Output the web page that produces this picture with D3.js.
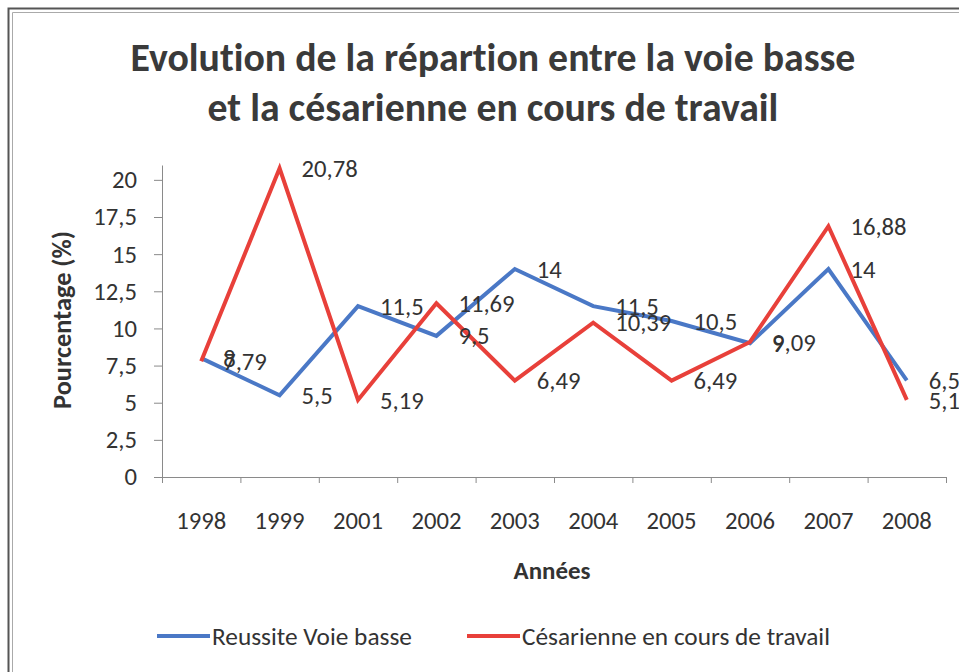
<!DOCTYPE html>
<html>
<head>
<meta charset="utf-8">
<script src="https://cdn.jsdelivr.net/npm/d3@7"></script>
<style>
  html, body { margin: 0; padding: 0; background: #fff; }
  svg { display: block; }
  text { font-variant-ligatures: none; }
</style>
</head>
<body>
<svg id="chart" width="959" height="672"></svg>
<script>
// ---- Data ----
const years = ['1998', '1999', '2001', '2002', '2003', '2004', '2005', '2006', '2007', '2008'];
const voieBasse = [8, 5.5, 11.5, 9.5, 14, 11.5, 10.5, 9, 14, 6.5];
const cesarienne = [7.79, 20.78, 5.19, 11.69, 6.49, 10.39, 6.49, 9.09, 16.88, 5.19];
const yTicks = [0, 2.5, 5, 7.5, 10, 12.5, 15, 17.5, 20];
const seriesNames = ['Reussite Voie basse', 'Césarienne en cours de travail'];
const titleLines = ['Evolution de la répartion entre la voie basse', 'et la césarienne en cours de travail'];
const xTitle = 'Années';
const yTitle = 'Pourcentage (%)';

// ---- Layout / style ----
const FF = 'Carlito, Calibri, Lato, "Open Sans", sans-serif';
const colors = ['#4a78c6', '#e8403a'];
const textColor = '#333';
const axisColor = '#8a8a8a';

const svg = d3.select('#chart');

function sizeFor(str, weight, target) {
  const t = svg.append('text').attr('font-family', FF).attr('font-weight', weight)
    .attr('font-size', 100).text(str);
  const w = t.node().getComputedTextLength();
  t.remove();
  return 100 * target / w;
}
const numSize = sizeFor('1998', 400, 50);
const legendSize = sizeFor(seriesNames[0], 400, 200);
const titleSize = sizeFor(titleLines[0], 700, 725);
const yTitleSize = sizeFor(yTitle, 700, 178);
const xTitleSize = sizeFor(xTitle, 700, 77);

const fmt = d => String(d).replace('.', ',');

// frame
const frame = svg.append('g');
frame.append('path').attr('d', 'M8.5,672 V8.5 H959').attr('fill', 'none')
  .attr('stroke', '#555').attr('stroke-width', 2);
frame.append('path').attr('d', 'M12.5,672 V12.5 H959').attr('fill', 'none')
  .attr('stroke', '#aaa').attr('stroke-width', 1);

// scales
const x = d3.scaleBand().domain(years).range([162, 946]);
const xEdge = d3.scaleLinear().domain([0, years.length]).range([162, 946]);
const y = d3.scaleLinear().domain([0, 21]).range([477, 165]);
const cx = d => x(d) + x.bandwidth() / 2;

// title
svg.append('g').selectAll('text').data(titleLines).join('text')
  .attr('x', 493).attr('y', (d, i) => 71 + i * 50)
  .attr('text-anchor', 'middle')
  .attr('font-family', FF).attr('font-weight', 700).attr('font-size', titleSize)
  .attr('fill', '#3a3a3a').text(d => d);

// y axis
const yAxis = svg.append('g').attr('transform', 'translate(162,0)')
  .call(d3.axisLeft(y).tickValues(yTicks).tickFormat(fmt).tickSize(8).tickSizeOuter(0).tickPadding(17));
yAxis.select('.domain').attr('stroke', axisColor);
yAxis.selectAll('.tick line').attr('stroke', axisColor);
yAxis.selectAll('.tick text').attr('font-family', FF).attr('font-size', numSize).attr('fill', textColor);

// x axis line + edge ticks
const xAxisEdge = svg.append('g').attr('transform', 'translate(0,477)')
  .call(d3.axisBottom(xEdge).ticks(years.length).tickFormat('').tickSize(6).tickSizeOuter(0));
xAxisEdge.select('.domain').attr('stroke', axisColor);
xAxisEdge.selectAll('.tick line').attr('stroke', axisColor);

// x labels
const xAxis = svg.append('g').attr('transform', 'translate(0,477)')
  .call(d3.axisBottom(x).tickSize(0).tickPadding(0));
xAxis.select('.domain').remove();
xAxis.selectAll('.tick text').attr('y', 43).attr('dy', '0.35em')
  .attr('font-family', FF).attr('font-size', numSize).attr('fill', textColor);

// axis titles
svg.append('text').attr('transform', 'translate(62,320) rotate(-90)')
  .attr('text-anchor', 'middle').attr('dy', '0.35em')
  .attr('font-family', FF).attr('font-weight', 700).attr('font-size', yTitleSize)
  .attr('fill', textColor).text(yTitle);
svg.append('text').attr('x', 552).attr('y', 570).attr('dy', '0.35em')
  .attr('text-anchor', 'middle')
  .attr('font-family', FF).attr('font-weight', 700).attr('font-size', xTitleSize)
  .attr('fill', textColor).text(xTitle);

// lines
const series = [voieBasse, cesarienne];
const line = d3.line().x((d, i) => cx(years[i])).y(d => y(d));
svg.append('g').selectAll('path').data(series).join('path')
  .attr('d', d => line(d)).attr('fill', 'none')
  .attr('stroke', (d, i) => colors[i]).attr('stroke-width', 4)
  .attr('stroke-linejoin', 'miter').attr('stroke-linecap', 'butt');

// data labels
series.forEach((s, si) => {
  svg.append('g').selectAll('text').data(s).join('text')
    .attr('x', (d, i) => cx(years[i]) + 22).attr('y', d => y(d)).attr('dy', '0.35em')
    .attr('font-family', FF).attr('font-size', numSize).attr('fill', textColor)
    .text(d => fmt(d));
});

// legend
const legendX = [157, 467];
const lg = svg.append('g').selectAll('g').data(seriesNames).join('g')
  .attr('transform', (d, i) => `translate(${legendX[i]},636)`);
lg.append('line').attr('x1', 0).attr('x2', 53).attr('y1', 0).attr('y2', 0)
  .attr('stroke', (d, i) => colors[i]).attr('stroke-width', 4);
lg.append('text').attr('x', 55).attr('dy', '0.35em')
  .attr('font-family', FF).attr('font-size', legendSize).attr('fill', textColor)
  .text(d => d);
</script>
</body>
</html>
